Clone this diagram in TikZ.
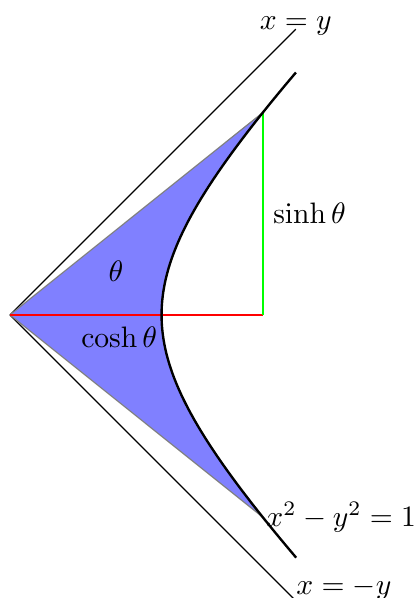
\documentclass[tikz,border=0pt]{standalone}
\usetikzlibrary{positioning, calc}
\begin{document}
\begin{tikzpicture}[x=1.8cm, y=1.8cm,
        % asymptotes: thin black lines
        asym/.style={draw=black, thin},
        % hyperbola: thick black curve
        hyper/.style={draw=black, thick, smooth, samples=80},
        % hyperbolic sector: blue fill, gray edge
        sector/.style={fill=blue!50, draw=gray, thin},
        coshline/.style={draw=red, thick},
        sinhline/.style={draw=green, thick},
        ]

        % parameter of the point and range of the curve
        \def\tp{1.1}
        \def\tmax{1.25}
        \def\asy{1.886}

        \useasboundingbox (-0.066,-1.868) rectangle (2.672,2.078);

        % === Points ===
        \coordinate (O) at (0,0);
        \coordinate (P) at ({cosh(\tp)},{sinh(\tp)});
        \coordinate (Q) at ({cosh(\tp)},{-sinh(\tp)});
        \coordinate (F) at ({cosh(\tp)},0);
        \coordinate (A) at (\asy,\asy);
        \coordinate (B) at (\asy,-\asy);

        % === Asymptotes ===
        \draw[asym] (O) -- (A);
        \draw[asym] (O) -- (B);

        % === Sector ===
        \filldraw[sector] (O) -- (P)
            -- plot[smooth, samples=60, domain=\tp:-\tp] ({cosh(\x)},{sinh(\x)})
            -- cycle;

        % === cosh and sinh ===
        \draw[coshline] (O) -- (F);
        \draw[sinhline] (F) -- (P);

        % === Hyperbola ===
        \draw[hyper] plot[domain=-\tmax:\tmax] ({cosh(\x)},{sinh(\x)});

        % === Labels ===
        \node[anchor=base] (lxy) at (A) {$x=y$};
        \node[anchor=south west, inner sep=0pt] (lxmy) at (B) {$x=-y$};
        \node[anchor=west, inner sep=0pt] (lhyp) at ([xshift=1pt]Q) {$x^2-y^2=1$};
        \node[right] (lsinh) at ($(F)!0.5!(P)$) {$\sinh\theta$};
        \node (lcosh) at (0.72,-0.148) {$\cosh\theta$};
        \node (ltheta) at (0.70,0.286) {$\theta$};

    \end{tikzpicture}
\end{document}
